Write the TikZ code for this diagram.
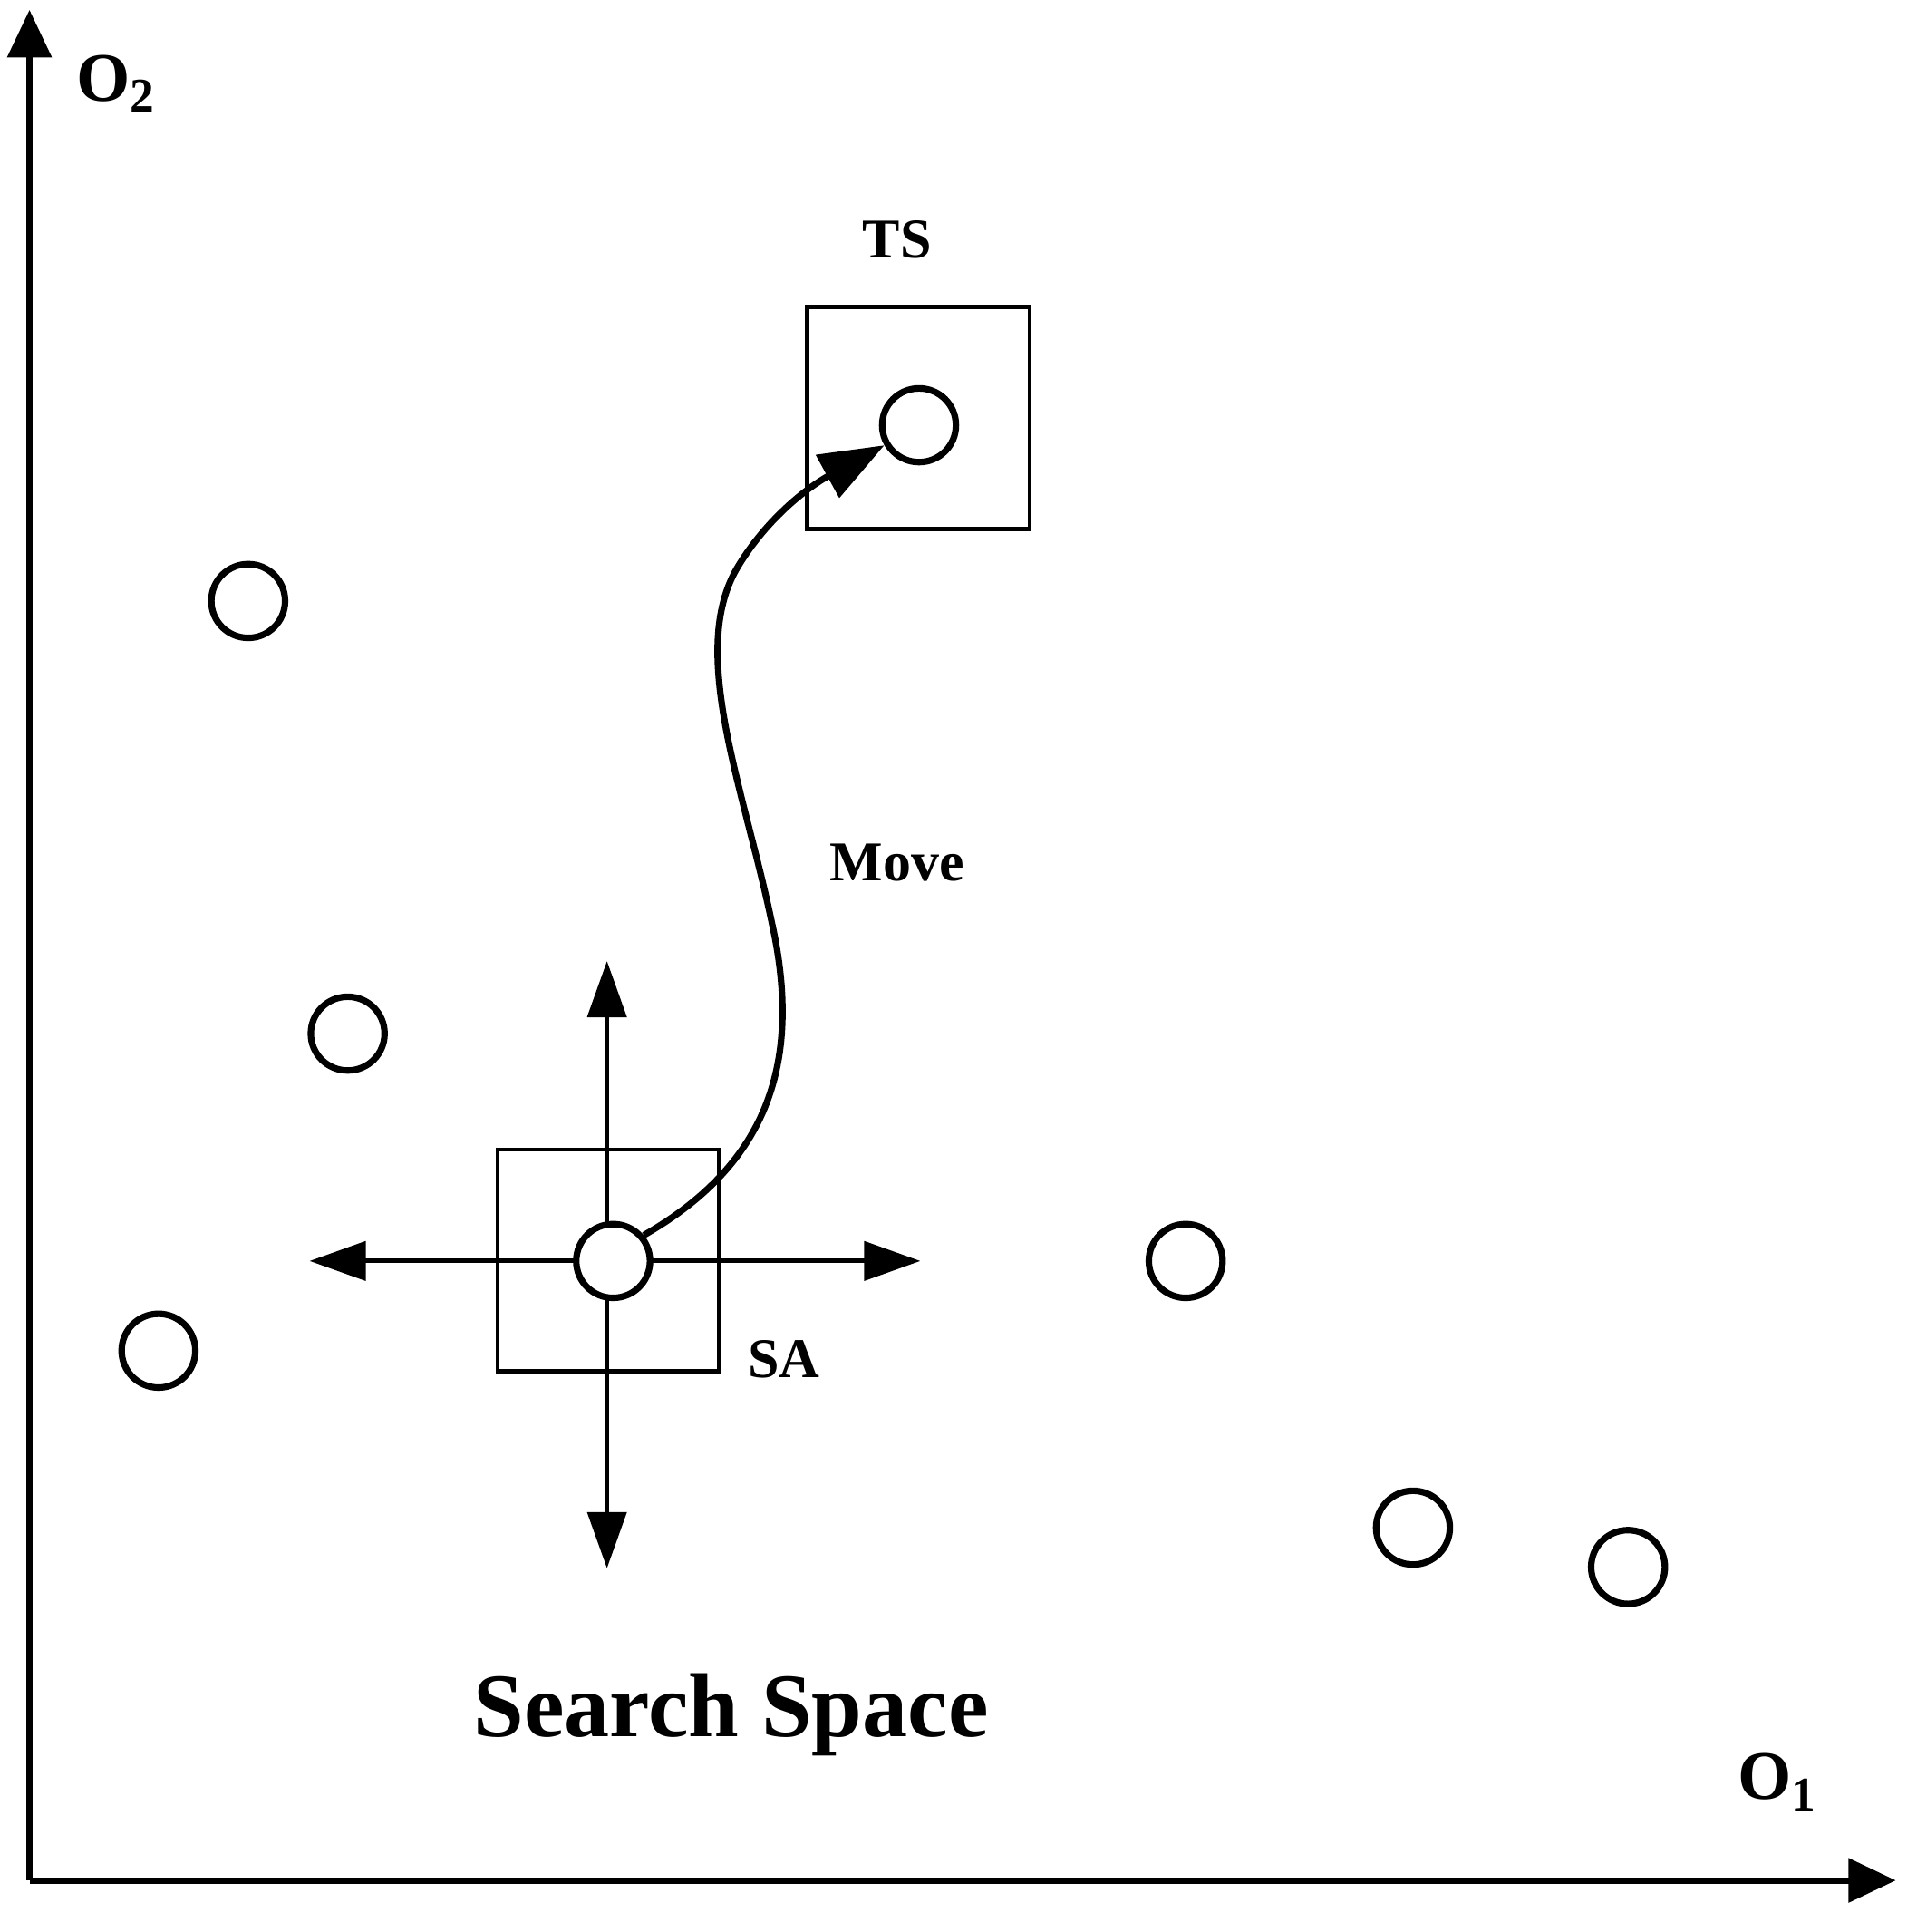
\documentclass[tikz,border=0pt]{standalone}
\usepackage{fontspec}
\setmainfont{Liberation Serif}
\usetikzlibrary{arrows.meta}
\begin{document}
\begin{tikzpicture}[x=0.01cm,y=-0.01cm,
  pt/.style={circle,draw,line width=1.5pt,fill=white,minimum size=0.6cm,inner sep=0pt},
  box/.style={draw,line width=1pt},
  dir/.style={line width=1pt,-{Triangle[length=13pt,width=9pt]}},
  axis/.style={line width=1.5pt,-{Triangle[length=11pt,width=10pt]}},
  lbl/.style={font=\bfseries\fontsize{13}{15}\selectfont}]
\useasboundingbox (0,0) rectangle (1560,1572);
\coordinate (org) at (24,1530);
\coordinate (ytip) at (24,8);
\coordinate (xtip) at (1543,1530);
\draw[axis] (org) -- (ytip);
\draw[axis] (org) -- (xtip);
\node[font=\bfseries\fontsize{16}{18}\selectfont] (o2) at (95,68) {O$_{\mathbf 2}$};
\node[font=\bfseries\fontsize{16}{18}\selectfont] (o1) at (1447,1450) {O$_{\mathbf 1}$};
% TS box
\node[box,minimum width=1.81cm,minimum height=1.81cm] (tsbox) at (747.5,340) {};
\node[lbl] (ts) at (730,195) {TS};
% SA box
\node[box,minimum width=1.80cm,minimum height=1.80cm] (sabox) at (495,1025.5) {};
\node[lbl] (sa) at (638,1106) {SA};
% direction arrows
\coordinate (c) at (494,1026);
\coordinate (up) at (494,782);
\coordinate (dn) at (494,1276);
\coordinate (lf) at (252,1026);
\coordinate (rt) at (749,1026);
\draw[dir] (c) -- (up);
\draw[dir] (c) -- (dn);
\draw[dir] (c) -- (lf);
\draw[dir] (c) -- (rt);
% points
\node[pt] (p0) at (499,1026) {};
\node[pt] (pt) at (748,346) {};
\node[pt] (p1) at (202,489) {};
\node[pt] (p2) at (283,841) {};
\node[pt] (p3) at (129,1099) {};
\node[pt] (p4) at (965,1026) {};
\node[pt] (p5) at (1150,1243) {};
\node[pt] (p6) at (1325,1275) {};
% move curve
\draw[line width=1.5pt,-{Triangle[length=15pt,width=11pt]}] (p0.40) .. controls (620,950) and (655,870) .. (628,750)
  .. controls (605,640) and (560,530) .. (600,462) .. controls (625,420) and (660,395) .. (pt.210);
\node[lbl] (mv) at (730,702) {Move};
\node[font=\bfseries\fontsize{21}{24}\selectfont] (ss) at (595,1395) {Search Space};
\end{tikzpicture}
\end{document}
